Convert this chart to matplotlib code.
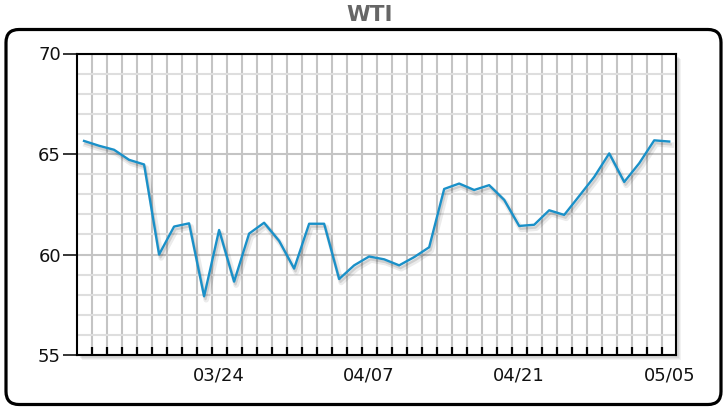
import numpy as np
import matplotlib
matplotlib.use("Agg")
import matplotlib.pyplot as plt
from matplotlib.patches import FancyBboxPatch, Rectangle
from matplotlib.ticker import FixedLocator, MultipleLocator
import matplotlib.patheffects as pe

plt.rcParams['font.family'] = ['DejaVu Sans']

title = "WTI"
wti = [65.65, 65.41, 65.21, 64.71, 64.48, 60.00, 61.39, 61.55, 57.92, 61.22,
       58.65, 61.04, 61.58, 60.68, 59.30, 61.53, 61.53, 58.78, 59.46, 59.90,
       59.76, 59.46, 59.87, 60.36, 63.26, 63.53, 63.21, 63.45, 62.72, 61.42,
       61.48, 62.20, 61.97, 62.91, 63.86, 65.03, 63.61, 64.54, 65.68, 65.62]
tick_index = [9, 19, 29, 39]
tick_labels = ["03/24", "04/07", "04/21", "05/05"]
y_ticks = [55, 60, 65, 70]

W, H = 725, 408
fig = plt.figure(figsize=(W / 100, H / 100), dpi=100)

# outer rounded frame
frame = FancyBboxPatch((0.06, 0.035), 7.15, 3.75,
                       boxstyle="round,pad=0,rounding_size=0.13",
                       transform=fig.dpi_scale_trans, fill=False,
                       edgecolor='black', linewidth=2.3, zorder=-2)
fig.patches.append(frame)

left, right, top, bottom = 77, 676, 53.5, 355
ax_rect = [left / W, 1 - bottom / H, (right - left) / W, (bottom - top) / H]

# soft shadow behind the axes box
for off, a in [(5, 0.10), (4, 0.12), (3, 0.15)]:
    sh = Rectangle(((left + off) / W, 1 - (bottom + off) / H),
                   (right - left) / W, (bottom - top) / H,
                   transform=fig.transFigure, facecolor='#808080', alpha=a,
                   edgecolor='none', zorder=-1)
    fig.patches.append(sh)

ax = fig.add_axes(ax_rect)
ax.set_zorder(1)
ax.set_facecolor('white')

x = np.arange(len(wti))
ax.plot(x, wti, color='#1a90c8', linewidth=1.7, zorder=5,
        path_effects=[pe.SimpleLineShadow(offset=(1.5, -2.5), shadow_color='black', alpha=0.08, linewidth=4),
                      pe.SimpleLineShadow(offset=(1, -2), shadow_color='black', alpha=0.12),
                      pe.Normal()])

ax.set_xlim(-0.47, len(wti) - 1 + 0.45)
ax.set_ylim(55, 70)

ax.set_xticks(tick_index)
ax.set_xticklabels(tick_labels)
ax.xaxis.set_minor_locator(FixedLocator(np.arange(0.55, len(wti) - 1, 1.0)))
ax.set_yticks(y_ticks)
ax.yaxis.set_minor_locator(MultipleLocator(1))

ax.tick_params(axis='x', which='major', length=0, pad=8, labelsize=13, labelcolor='#111111')
ax.tick_params(axis='x', which='minor', direction='in', length=5.5, width=1.6, color='black', bottom=True, top=False)
ax.tick_params(axis='y', which='major', direction='out', length=10, width=1.1, pad=1.5, labelsize=13, labelcolor='#111111')
ax.tick_params(axis='y', which='minor', length=0)

ax.xaxis.grid(True, which='minor', color='#c4c4c4', linewidth=1.5)
ax.xaxis.grid(False, which='major')
ax.yaxis.grid(True, which='minor', color='#dedede', linewidth=1.5)
ax.yaxis.grid(True, which='major', color='#c4c4c4', linewidth=1.5)
ax.set_axisbelow(True)

for s in ax.spines.values():
    s.set_color('black')
    s.set_linewidth(1.5)
    s.set_zorder(6)

fig.text(370 / W, 1 - 15 / H, title, ha='center', va='center', fontsize=15.5,
         fontweight='bold', color='#666666')

fig.savefig('out.png', dpi=100)
